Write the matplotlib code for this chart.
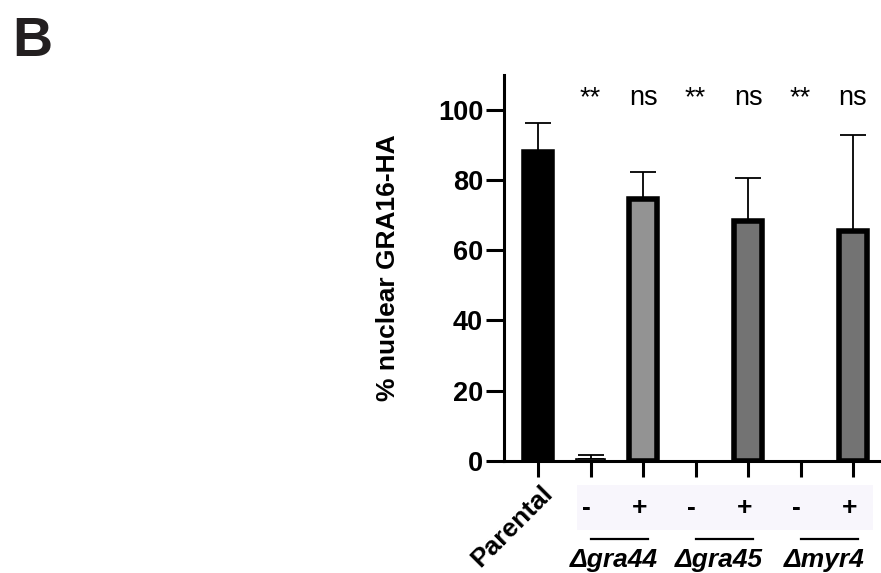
import matplotlib
matplotlib.use("Agg")
import matplotlib.pyplot as plt
from matplotlib.patches import Rectangle

plt.rcParams['font.family'] = ['Liberation Sans', 'DejaVu Sans']

# data
groups = ['Parental', 'gra44 -', 'gra44 +', 'gra45 -', 'gra45 +', 'myr4 -', 'myr4 +']
means = [88.0, 0.5, 74.5, 0.0, 68.3, 0.0, 65.4]
err_up = [8.3, 1.0, 7.7, 0.0, 12.3, 0.0, 27.6]
colors = ['#000000', '#939393', '#939393', '#737373', '#737373', '#737373', '#737373']
signif = ['', '**', 'ns', '**', 'ns', '**', 'ns']
pm_labels = ['', '-', '+', '-', '+', '-', '+']
strain_names = ['gra44', 'gra45', 'myr4']
yticks = [0, 20, 40, 60, 80, 100]

W, H = 881, 573
fig = plt.figure(figsize=(W / 100, H / 100), dpi=100)
ax = fig.add_axes([504 / W, 1 - 460.7 / H, 376 / W, (460.7 - 75) / H])

x = list(range(len(groups)))
lw = 2.2
fs = 19

# bars near zero get a thin outline, empty ones none
edge_w = [4 if m > 5 else (1.2 if m > 0 else 0) for m in means]

# error bars only upward, drawn behind the bars
ax.errorbar(x, means, yerr=[[0] * len(x), err_up], fmt='none', ecolor='black',
            elinewidth=1.3, capsize=9.5, capthick=1.3, zorder=1)
ax.bar(x, means, width=0.55, color=colors, edgecolor='black', linewidth=edge_w, zorder=2)

ax.set_xlim(-0.648, 6.514)
ax.set_ylim(0, 110)
ax.set_yticks(yticks)
ax.set_yticklabels([str(t) for t in yticks], fontsize=fs + 0.5, fontweight='bold')
ax.set_xticks(x)
ax.set_xticklabels([''] * len(x))
ax.tick_params(axis='y', length=13, width=lw, pad=2)
ax.tick_params(axis='x', length=11.5, width=lw)
for s in ['top', 'right']:
    ax.spines[s].set_visible(False)
for s in ['left', 'bottom']:
    ax.spines[s].set_linewidth(lw)

# significance labels
for xi, s in zip(x, signif):
    if s:
        ax.text(xi, 101.5, s, ha='center', va='baseline', fontsize=fs + 0.5, clip_on=False)

# Parental label
ax.text(0.05, -5.8, groups[0], rotation=45, ha='right', va='top',
        rotation_mode='anchor', fontsize=fs, fontweight='bold', clip_on=False)

# -/+ box
ax.add_patch(Rectangle((0.743, -19.7), 6.38 - 0.743, 12.8, facecolor='#f8f6fc',
                       edgecolor='none', clip_on=False, zorder=0))
for xi, s in zip(x, pm_labels):
    if s:
        ax.text(xi - 0.07, -13.5, s, ha='center', va='center', fontsize=fs,
                fontweight='bold', clip_on=False)

# strain underlines and names
for i, name in enumerate(strain_names):
    a, b = x[1 + 2 * i], x[2 + 2 * i]
    ax.plot([a, b + 0.1], [-22.2, -22.2], color='black', lw=1.6, clip_on=False)
    ax.text((a + b) / 2 - 0.05, -28.3, '\u0394' + name, ha='center', va='center',
            fontsize=fs, fontweight='bold', fontstyle='italic', clip_on=False)

fig.text(388 / W, 1 - 268 / H, '% nuclear GRA16-HA', rotation=90, ha='center',
         va='center', fontsize=fs, fontweight='bold')
fig.text(12 / W, 1 - 56 / H, 'B', fontsize=40, fontweight='bold', color='#231f20',
         ha='left', va='baseline')

fig.savefig('out.png', dpi=100)
